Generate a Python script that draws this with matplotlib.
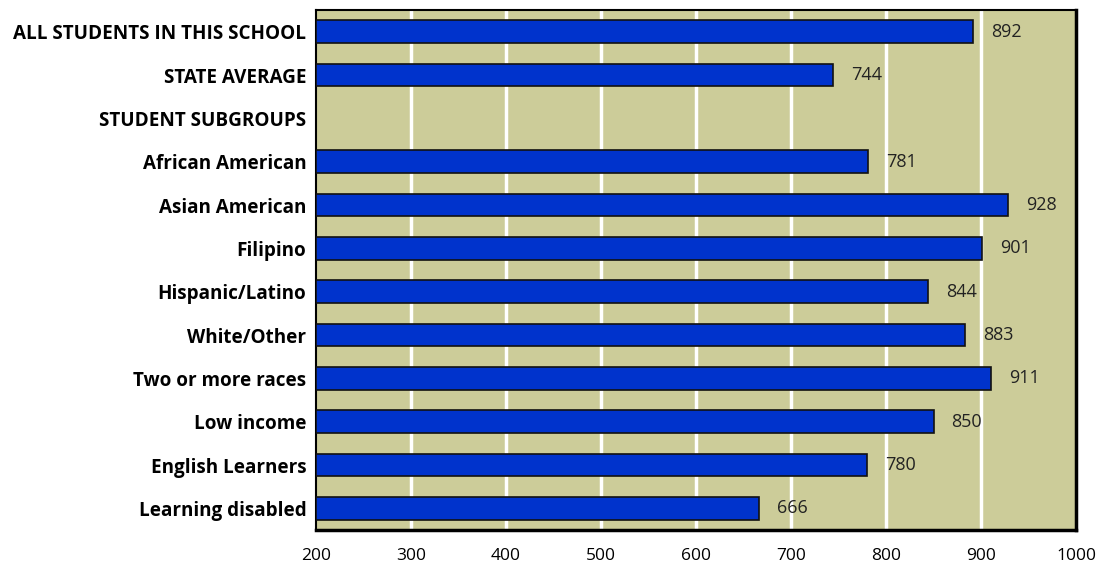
import matplotlib
matplotlib.use("Agg")
import matplotlib.pyplot as plt
import numpy as np

categories = ["ALL STUDENTS IN THIS SCHOOL", "STATE AVERAGE", "STUDENT SUBGROUPS",
              "African American", "Asian American", "Filipino", "Hispanic/Latino",
              "White/Other", "Two or more races", "Low income", "English Learners",
              "Learning disabled"]
values = [892, 744, None, 781, 928, 901, 844, 883, 911, 850, 780, 666]
xticks = [200, 300, 400, 500, 600, 700, 800, 900, 1000]

plt.rcParams['font.family'] = ['Open Sans', 'DejaVu Sans']

fig = plt.figure(figsize=(11.06, 5.65), dpi=100)
ax = fig.add_axes([316/1106, 1-530/565, (1076-316)/1106, (530-10)/565])
ax.set_facecolor('#cccc99')

ypos = np.arange(len(categories))
for y, v in zip(ypos, values):
    if v is None:
        continue
    ax.barh(y, v - 200, left=200, height=0.52, color='#0033cc',
            edgecolor='#111111', linewidth=1.2, zorder=3)
    ax.text(v + 19, y, str(v), va='center', ha='left', fontsize=13,
            color='#222222', zorder=4)

for xv in xticks[1:-1]:
    ax.axvline(xv, color='white', linewidth=2.5, zorder=1)

ax.set_xlim(200, 1000)
ax.set_ylim(len(categories) - 0.5, -0.5)
ax.set_yticks(ypos)
ax.set_yticklabels(categories, fontsize=13.6, fontweight='bold')
ax.set_xticks(xticks)
ax.set_xticklabels([str(x) for x in xticks], fontsize=12.5)
ax.tick_params(axis='both', length=0)
ax.tick_params(axis='x', pad=13)
ax.tick_params(axis='y', pad=7)
for s in ax.spines.values():
    s.set_linewidth(1.5)
    s.set_color('black')
ax.spines['right'].set_linewidth(2.5)
ax.spines['bottom'].set_linewidth(2.5)

fig.savefig("out.png", dpi=100)
